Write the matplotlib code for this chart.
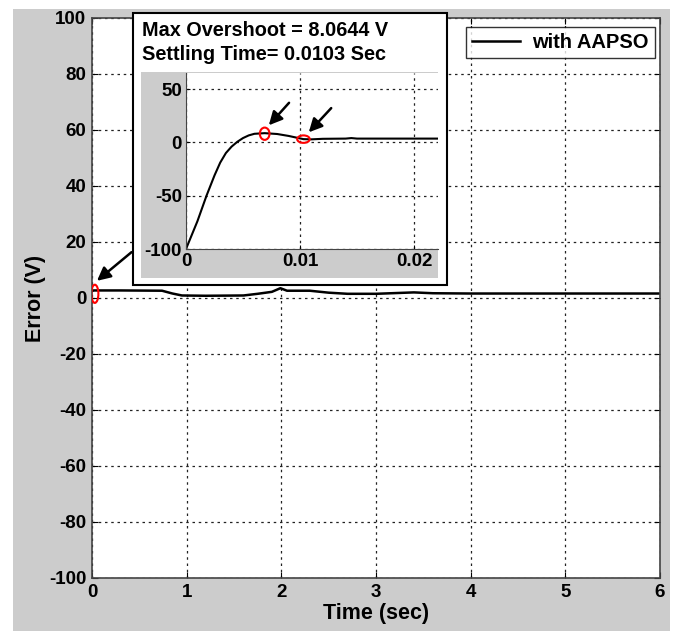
import matplotlib
matplotlib.use("Agg")
import matplotlib.pyplot as plt
from matplotlib.patches import Rectangle, Ellipse

plt.rcParams['font.family'] = ['Liberation Sans', 'DejaVu Sans']
plt.rcParams['font.weight'] = 'bold'
plt.rcParams['axes.unicode_minus'] = False

# ---- data ----
main_t = [0.0, 0.02, 0.3, 0.74, 0.85, 0.95, 1.2, 1.6, 1.75, 1.9, 1.99, 2.06, 2.3, 2.5, 2.7, 3.0, 3.4, 3.6, 4.0, 5.0, 6.0]
main_v = [2.5, 2.7, 2.7, 2.6, 1.6, 0.9, 0.8, 0.9, 1.5, 2.2, 3.5, 2.6, 2.6, 1.9, 1.5, 1.5, 2.0, 1.7, 1.6, 1.6, 1.6]

inset_t = [0.0, 0.0005, 0.001, 0.0018, 0.0025, 0.003, 0.0035, 0.004, 0.0045, 0.005, 0.0055,
           0.006, 0.0069, 0.008, 0.009, 0.0103, 0.011, 0.012, 0.014, 0.0145, 0.015, 0.0221]
inset_v = [-100, -87, -74, -50, -31, -19, -10, -4, 0.5, 4, 6.5,
           8.0, 8.6, 7.8, 6.0, 3.0, 2.8, 3.3, 3.5, 4.0, 3.5, 3.5]

overshoot_pt = (0.0069, 8.0644)
settling_pt = (0.0103, 3.0)

main_xticks = [0, 1, 2, 3, 4, 5, 6]
main_yticks = [-100, -80, -60, -40, -20, 0, 20, 40, 60, 80, 100]
inset_xticks = [0, 0.01, 0.02]
inset_xticklabels = ['0', '0.01', '0.02']
inset_yticks = [-100, -50, 0, 50]

legend_label = 'with AAPSO'
inset_title1 = 'Max Overshoot = 8.0644 V'
inset_title2 = 'Settling Time= 0.0103 Sec'

W, H = 684, 631
fig = plt.figure(figsize=(W / 100, H / 100), dpi=100)
fig.patch.set_facecolor('white')
fig.patches.append(Rectangle((13 / W, 0), 657 / W, 622 / H, transform=fig.transFigure,
                             facecolor='#cccccc', edgecolor='none', zorder=-10))

grid_kw = dict(color='#222222', linestyle=(0, (2, 3)), linewidth=0.9)

# ---- main axes ----
ax = fig.add_axes([92 / W, 53 / H, 568 / W, 560 / H])
ax.plot(main_t, main_v, color='black', linewidth=1.8, label=legend_label)
ax.set_xlim(0, 6)
ax.set_ylim(-100, 100)
ax.set_xticks(main_xticks)
ax.set_yticks(main_yticks)
ax.grid(True, **grid_kw)
ax.tick_params(direction='in', length=4, labelsize=13.5, top=True, right=True, pad=4)
for lab in ax.get_xticklabels() + ax.get_yticklabels():
    lab.set_fontweight('bold')
for s in ax.spines.values():
    s.set_color('#444444')
    s.set_linewidth(1.2)
ax.set_xlabel('Time (sec)', fontsize=15.5, fontweight='bold', labelpad=2)
ax.set_ylabel('Error (V)', fontsize=15.5, fontweight='bold', labelpad=2)
leg = ax.legend(loc='upper right', bbox_to_anchor=(0.991, 0.984), fontsize=14.5,
                frameon=True, fancybox=False, handlelength=2.4, borderpad=0.3,
                handletextpad=0.6, borderaxespad=0.0)
leg.get_frame().set_edgecolor('black')
leg.get_frame().set_linewidth(1.0)
for t in leg.get_texts():
    t.set_fontweight('bold')

# red marker on main axes at origin region
ax.add_patch(Ellipse((0.03, 1.5), 0.075, 6.5, fill=False, edgecolor='red', linewidth=1.5, zorder=5))
ax.annotate('', xy=(0.03, 5.5), xytext=(0.44, 17.0),
            arrowprops=dict(arrowstyle='-|>', color='black', lw=1.8, mutation_scale=20))

# ---- inset box ----
fig.patches.append(Rectangle((133 / W, (H - 285) / H), 314 / W, 272 / H, transform=fig.transFigure,
                             facecolor='white', edgecolor='black', linewidth=1.5, zorder=2))
fig.patches.append(Rectangle((141 / W, (H - 278) / H), 297 / W, 206 / H, transform=fig.transFigure,
                             facecolor='#cccccc', edgecolor='none', zorder=2.1))
fig.text(142 / W, (H - 31) / H, inset_title1, fontsize=14.3, fontweight='bold', va='center', ha='left', zorder=3)
fig.text(142 / W, (H - 54) / H, inset_title2, fontsize=14.3, fontweight='bold', va='center', ha='left', zorder=3)

ax2 = fig.add_axes([186 / W, (H - 249) / H, 252 / W, 176 / H])
ax2.set_zorder(3)
ax2.plot(inset_t, inset_v, color='black', linewidth=1.5)
ax2.set_xlim(0, 0.0221)
ax2.set_ylim(-100, 65)
ax2.set_xticks(inset_xticks)
ax2.set_xticklabels(inset_xticklabels)
ax2.set_yticks(inset_yticks)
ax2.grid(True, **grid_kw)
ax2.tick_params(direction='in', length=3, labelsize=13.5, pad=3)
for lab in ax2.get_xticklabels() + ax2.get_yticklabels():
    lab.set_fontweight('bold')
ax2.spines['top'].set_visible(False)
ax2.spines['right'].set_visible(False)
for s in ('left', 'bottom'):
    ax2.spines[s].set_color('#444444')
ax2.add_patch(Ellipse(overshoot_pt, 0.00085, 11.5, fill=False, edgecolor='red', linewidth=1.5, zorder=5))
ax2.add_patch(Ellipse(settling_pt, 0.0011, 7.0, fill=False, edgecolor='red', linewidth=1.5, zorder=5))
ax2.annotate('', xy=(overshoot_pt[0] + 0.0002, overshoot_pt[1] + 6), xytext=(0.0092, 39),
             arrowprops=dict(arrowstyle='-|>', color='black', lw=1.8, mutation_scale=20))
ax2.annotate('', xy=(settling_pt[0] + 0.0003, settling_pt[1] + 4.5), xytext=(0.0129, 34),
             arrowprops=dict(arrowstyle='-|>', color='black', lw=1.8, mutation_scale=20))

fig.savefig('out.png', dpi=100, facecolor=fig.get_facecolor())
